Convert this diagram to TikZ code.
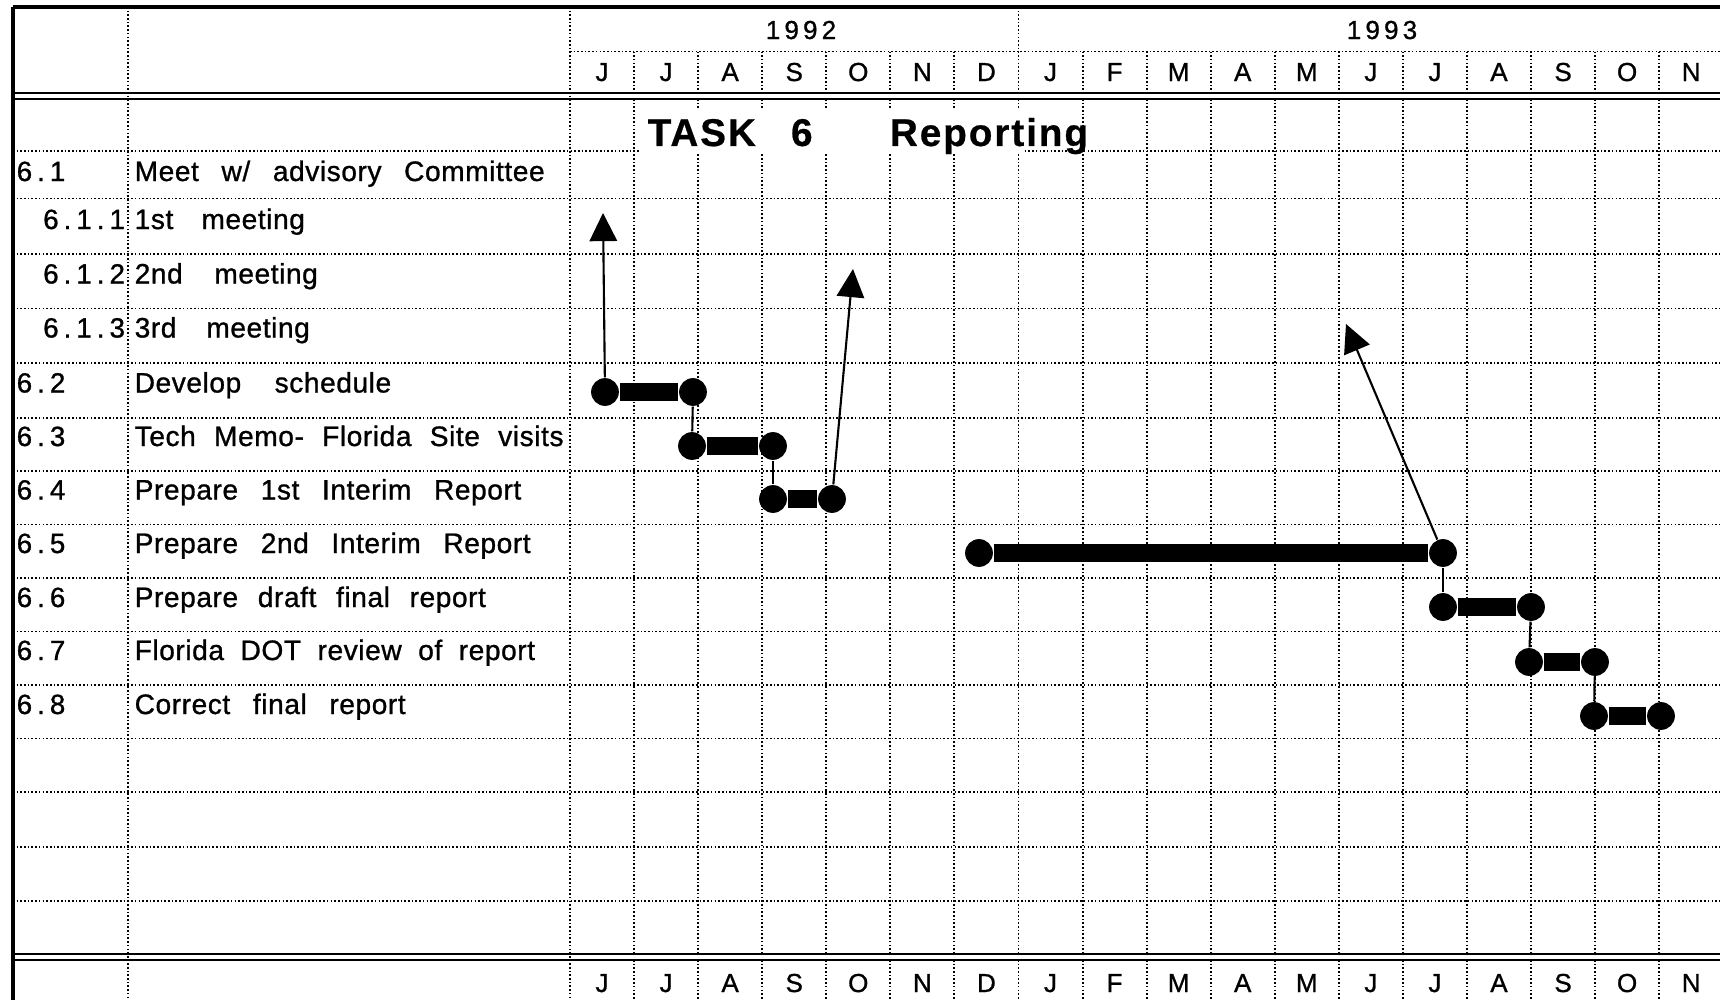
\documentclass[tikz,border=0pt]{standalone}
\usepackage{fontspec}
\setmainfont{Liberation Sans}
\newfontfamily\rowfont[LetterSpace=2,WordSpace=2.7,FakeBold=1]{Liberation Sans}
\newfontfamily\numfont[LetterSpace=18,FakeBold=1]{Liberation Sans}
\newfontfamily\yearfont[LetterSpace=16,FakeBold=1]{Liberation Sans}
\newfontfamily\monthfont[FakeBold=1]{Liberation Sans}
\newfontfamily\headfont[LetterSpace=5,FakeBold=0.6]{Liberation Sans Bold}
\usepackage{tikz}
\usetikzlibrary{arrows.meta, positioning, calc}

\begin{document}
\begin{tikzpicture}[
    x=0.01cm, y=-0.01cm,
    grid/.style={line width=0.55pt, dash pattern=on 0.45pt off 0.6pt},
    rule/.style={line width=0.8pt},
    month/.style={font=\monthfont\fontsize{7.4}{8}\selectfont, anchor=base, inner sep=0pt},
    year/.style={font=\yearfont\fontsize{7.4}{9}\selectfont, anchor=base, inner sep=0pt},
    num/.style={font=\numfont\fontsize{7.9}{9}\selectfont, anchor=base west, inner sep=0pt},
    task/.style={font=\rowfont\fontsize{8}{9}\selectfont, anchor=base west, inner sep=0pt},
    gap/.style={execute at begin node={\spaceskip=#1\relax}},
    dot/.style={circle, fill=black, inner sep=0pt, minimum size=7.9pt},
    bar/.style={line width=5.2pt},
    link/.style={line width=0.6pt},
    milestone/.style={line width=0.6pt, -{Triangle[width=7.8pt,length=8pt]}}
]
\useasboundingbox (0,0) rectangle (1720,1000);

% Grid
\foreach \y in {151,198.5,254,308.5,363,418,471,524.5,578,631.5,685,738.5,792,847,901}
    \draw[grid] (13,\y) -- (1720,\y);
\draw[grid] (570,51.5) -- (1720,51.5);
\foreach \k in {1,...,17} {
    \draw[grid] ({570+64.07*\k},51.5) -- ({570+64.07*\k},93);
    \draw[grid] ({570+64.07*\k},99) -- ({570+64.07*\k},954);
    \draw[grid] ({570+64.07*\k},960) -- ({570+64.07*\k},1000);
}
\draw[grid] (1018.5,7) -- (1018.5,51.5);
\draw[grid] (128,7) -- (128,1000);
\draw[grid] (570,7) -- (570,1000);

% Frame
\draw[line width=0.9pt] (13,7) -- (1720,7);
\draw[line width=1.3pt] (13,7) -- (13,1000);
\draw[rule] (13,93) -- (1720,93);
\draw[line width=0.6pt] (13,99) -- (1720,99);
\draw[rule] (13,954) -- (1720,954);
\draw[rule] (13,960) -- (1720,960);

% Time scale
\node[year] (y92) at (801,39) {1992};
\node[year] (y93) at (1382,39) {1993};
\foreach \m [count=\i from 0] in {J,J,A,S,O,N,D,J,F,M,A,M,J,J,A,S,O,N} {
    \node[month] (mt\i) at ({602+64.07*\i},81) {\m};
    \node[month] (mb\i) at ({602+64.07*\i},992) {\m};
}

% Title
\fill[white] (641,110) rectangle (1024,153);
\node[font=\headfont\fontsize{11}{12}\selectfont, anchor=base west, inner sep=0pt] (title) at (647,146) {TASK\hspace{10pt}6\hspace{22pt}Reporting};

% Tasks
\node[num] (n61) at (16,181) {6.1};
\node[task] (t61) at (134,181) {Meet w/ advisory Committee};
\node[num] (n611) at (42.5,229) {6.1.1};
\node[task] (t611) at (134,229) {1st\hspace{8pt}meeting};
\node[num] (n612) at (42.5,283.5) {6.1.2};
\node[task] (t612) at (134,283.5) {2nd\hspace{9pt}meeting};
\node[num] (n613) at (42.5,337.5) {6.1.3};
\node[task] (t613) at (134,337.5) {3rd\hspace{8.5pt}meeting};
\node[num] (n62) at (16,392.5) {6.2};
\node[task] (t62) at (134,392.5) {Develop\hspace{9.5pt}schedule};
\node[num] (n63) at (16,446) {6.3};
\node[task, gap=5.2pt] (t63) at (134,446) {Tech Memo- Florida Site visits};
\node[num] (n64) at (16,499.5) {6.4};
\node[task] (t64) at (134,499.5) {Prepare 1st Interim Report};
\node[num] (n65) at (16,553) {6.5};
\node[task] (t65) at (134,553) {Prepare 2nd Interim Report};
\node[num] (n66) at (16,607) {6.6};
\node[task, gap=5.6pt] (t66) at (134,607) {Prepare draft final report};
\node[num] (n67) at (16,660) {6.7};
\node[task, gap=4.7pt] (t67) at (134,660) {Florida DOT review of report};
\node[num] (n68) at (16,714) {6.8};
\node[task] (t68) at (134,714) {Correct final report};

% Bars
\node[dot] (s62) at (605,392) {};
\node[dot] (f62) at (693,392) {};
\node[dot] (s63) at (692,446) {};
\node[dot] (f63) at (773,446) {};
\node[dot] (s64) at (773,499) {};
\node[dot] (f64) at (832,499) {};
\node[dot] (s65) at (979,553) {};
\node[dot] (f65) at (1443,553) {};
\node[dot] (s66) at (1443,607) {};
\node[dot] (f66) at (1531,607) {};
\node[dot] (s67) at (1529,662) {};
\node[dot] (f67) at (1595,662) {};
\node[dot] (s68) at (1594,716) {};
\node[dot] (f68) at (1661,716) {};

\draw[bar] (s62) -- (f62);
\draw[bar] (s63) -- (f63);
\draw[bar] (s64) -- (f64);
\draw[bar] (s65) -- (f65);
\draw[bar] (s66) -- (f66);
\draw[bar] (s67) -- (f67);
\draw[bar] (s68) -- (f68);

\draw[link] (f62) -- (s63);
\draw[link] (f63) -- (s64);
\draw[link] (f65) -- (s66);
\draw[link] (f66) -- (s67);
\draw[link] (f67) -- (s68);

% Meetings
\coordinate (m611) at (603,213);
\coordinate (m612) at (853,269);
\coordinate (m613) at (1346,324);
\draw[milestone] (s62) -- (m611);
\draw[milestone] (f64) -- (m612);
\draw[milestone] (f65) -- (m613);

\end{tikzpicture}
\end{document}
